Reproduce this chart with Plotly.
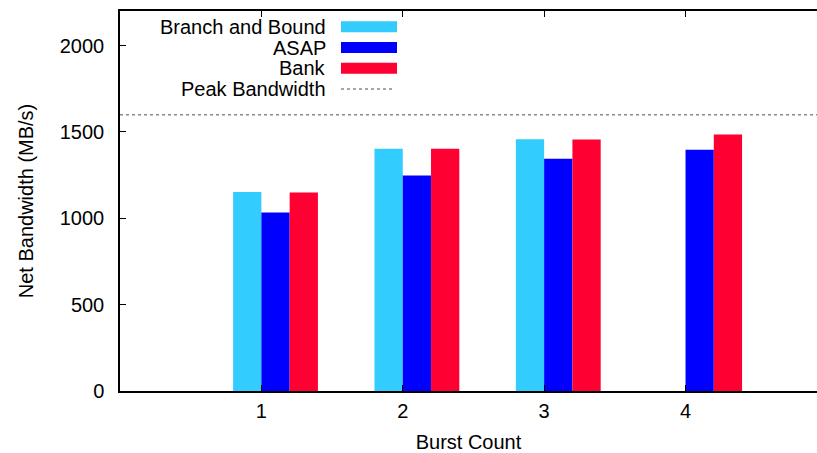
import plotly.graph_objects as go

categories = [1, 2, 3, 4]
branch_and_bound = [1152, 1402, 1457, 0]
asap = [1033, 1247, 1344, 1396]
bank = [1149, 1402, 1456, 1485]
peak_bandwidth = 1600
y_ticks = [0, 500, 1000, 1500, 2000]
series_names = ["Branch and Bound", "ASAP", "Bank", "Peak Bandwidth"]
colors = ["#33CCFF", "#0000FF", "#FF0033", "#888888"]

FONT = "Liberation Sans, Arial, sans-serif"
BW = 0.2
offsets = [-0.1, 0.1, 0.3]
X_MAX = 4.93

fig = go.Figure()
for vals, off, col, name in zip([branch_and_bound, asap, bank], offsets, colors, series_names):
    fig.add_trace(go.Bar(
        x=[c + off for c in categories], y=vals, width=BW,
        marker=dict(color=col, line=dict(width=0)), name=name, showlegend=False,
    ))

fig.add_trace(go.Scatter(
    x=[0, X_MAX], y=[peak_bandwidth, peak_bandwidth], mode="lines",
    line=dict(color=colors[3], width=1.5, dash="3px,3px"), showlegend=False,
    hoverinfo="skip",
))

# manual legend (text right-aligned, swatch to the right), gnuplot style
PLOT_L, PLOT_T, PLOT_B, PLOT_R = 120, 11, 391, 817
pw, ph = PLOT_R - PLOT_L, PLOT_B - PLOT_T
def px(x):
    return (x - PLOT_L) / pw
def py(y):
    return (PLOT_B - y) / ph

row_y = [26.7, 47.5, 68.3, 89.1]
text_right = 328
sw_l, sw_r = 341, 397
for i, name in enumerate(series_names):
    fig.add_annotation(
        x=px(text_right), y=py(row_y[i]), xref="paper", yref="paper",
        text=name, showarrow=False, xanchor="right", yanchor="middle",
        font=dict(family=FONT, size=20, color="#000000"),
    )
    if i < 3:
        fig.add_shape(type="rect", xref="paper", yref="paper",
                      x0=px(sw_l), x1=px(sw_r), y0=py(row_y[i] + 5.5), y1=py(row_y[i] - 5.5),
                      fillcolor=colors[i], line=dict(width=0))
    else:
        fig.add_shape(type="line", xref="paper", yref="paper",
                      x0=px(sw_l), x1=px(sw_r - 4), y0=py(row_y[i]), y1=py(row_y[i]),
                      line=dict(color=colors[3], width=1.5, dash="3px,3px"))

fig.update_layout(
    width=817, height=453, autosize=False,
    margin=dict(l=PLOT_L, r=817 - PLOT_R, t=PLOT_T, b=453 - PLOT_B),
    paper_bgcolor="white", plot_bgcolor="white",
    barmode="overlay", showlegend=False,
    font=dict(family=FONT, size=20, color="#000000"),
)
fig.update_xaxes(
    range=[0, X_MAX], tickvals=categories, ticktext=[str(c) for c in categories],
    showgrid=False, zeroline=False, showline=True, linecolor="black", linewidth=1.5,
    mirror="ticks", ticks="inside", ticklen=6, tickcolor="black",
    ticklabelstandoff=1, automargin=False,
    title=dict(text="Burst Count", font=dict(size=20), standoff=14),
    tickfont=dict(size=20),
)
fig.update_yaxes(
    range=[0, 2200], tickvals=y_ticks, ticktext=[str(t) for t in y_ticks],
    showgrid=False, zeroline=False, showline=True, linecolor="black", linewidth=1.5,
    mirror=False, ticks="inside", ticklen=6, tickcolor="black",
    ticklabelstandoff=10, automargin=False,
    title=dict(text="Net Bandwidth (MB/s)", font=dict(size=20), standoff=21),
    tickfont=dict(size=20),
)

fig.write_html(
    "out.html",
    config={"responsive": False, "displayModeBar": False},
    post_script="document.body.style.margin='0';document.documentElement.style.overflow='hidden';",
)
